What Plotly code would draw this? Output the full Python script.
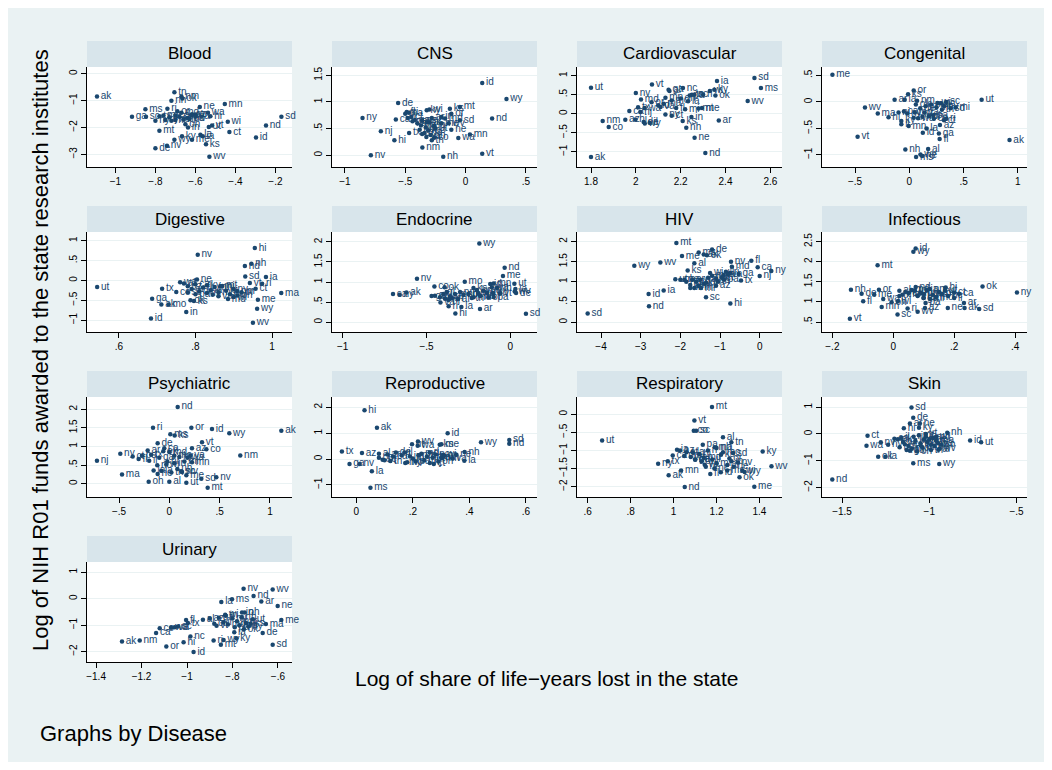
import plotly.graph_objects as go

# page offset of the figure (browser body margin) and figure size
OFF = 8
W, H = 1036, 754

# ---------------- DATA ----------------
diseases = ["Blood", "CNS", "Cardiovascular", "Congenital",
            "Digestive", "Endocrine", "HIV", "Infectious",
            "Psychiatric", "Reproductive", "Respiratory", "Skin",
            "Urinary"]

blood_st = "ak tn nm ok nh mn ne ms ri wa hi az sd ga sc wi nd ct mt in ut vt id ky wy me la ia ks nv de wv al ar ca co fl il ma md mi mo nc nj ny oh or pa tx va".split()
blood_x = [-1.092, -0.705, -0.67, -0.665, -0.72, -0.453, -0.578, -0.85, -0.74, -0.537, -0.525, -0.617, -0.17, -0.917, -0.847, -0.438, -0.247, -0.43, -0.78, -0.637, -0.533, -0.517, -0.297, -0.667, -0.705, -0.617, -0.575, -0.563, -0.547, -0.742, -0.80, -0.53, -0.62, -0.60, -0.70, -0.68, -0.73, -0.66, -0.76, -0.67, -0.72, -0.64, -0.70, -0.75, -0.80, -0.65, -0.69, -0.63, -0.78, -0.60]
blood_y = [-0.845, -0.69, -0.85, -0.92, -1.01, -1.13, -1.235, -1.32, -1.30, -1.45, -1.58, -1.51, -1.60, -1.60, -1.60, -1.79, -1.93, -2.17, -2.12, -2.0, -1.98, -1.93, -2.37, -2.33, -2.46, -2.46, -2.27, -2.33, -2.62, -2.68, -2.77, -3.09, -1.55, -1.52, -1.55, -1.60, -1.62, -1.70, -1.55, -1.45, -1.75, -1.65, -1.72, -1.72, -1.75, -1.88, -1.40, -1.68, -1.58, -1.60]

cns_st = "id wy de ny nd nj hi nv nm nh vt mn wa ne sd mt ks or ky fl md tx va tn ca co al ak az ar ct ga il in ia la me ma mi mo ms nc oh ok pa ri sc ut wv wi".split()
cns_x = [0.138, 0.339, -0.559, -0.854, 0.22, -0.702, -0.59, -0.785, -0.358, -0.185, 0.138, 0.036, -0.06, -0.118, -0.047, -0.047, -0.13, -0.118, -0.322, -0.488, -0.17, -0.468, -0.325, -0.28, -0.578, -0.26, -0.30, -0.40, -0.36, -0.28, -0.45, -0.42, -0.48, -0.20, -0.26, -0.33, -0.20, -0.50, -0.37, -0.31, -0.34, -0.38, -0.29, -0.32, -0.44, -0.47, -0.36, -0.25, -0.14, -0.30]
cns_y = [1.356, 1.056, 0.98, 0.70, 0.69, 0.45, 0.28, 0.0, 0.144, -0.03, 0.03, 0.39, 0.325, 0.48, 0.656, 0.906, 0.875, 0.78, 0.844, 0.81, 0.69, 0.419, 0.344, 0.28, 0.67, 0.33, 0.62, 0.60, 0.65, 0.70, 0.72, 0.66, 0.70, 0.72, 0.55, 0.52, 0.60, 0.78, 0.56, 0.47, 0.42, 0.48, 0.38, 0.62, 0.64, 0.80, 0.40, 0.50, 0.60, 0.86]

cardio_st = "ut ak vt nv nm co md ca nj ga nc ia sd ms ky ok wv ar in ks nh ne nd az hi de wy il la me tn ny ct mn ma wa tx al fl id mi mo mt or pa ri sc va wi oh".split()
cardio_x = [1.80, 1.80, 2.072, 2.0, 1.852, 1.879, 2.023, 1.971, 2.02, 2.146, 2.21, 2.362, 2.529, 2.558, 2.35, 2.355, 2.499, 2.37, 2.248, 2.209, 2.225, 2.262, 2.31, 1.953, 1.998, 2.035, 2.04, 2.062, 2.233, 2.295, 2.25, 2.132, 2.16, 2.132, 2.124, 2.039, 2.01, 2.15, 2.18, 2.10, 2.22, 2.16, 2.28, 2.07, 2.24, 2.30, 2.26, 2.11, 2.33, 2.20]
cardio_y = [0.684, -1.14, 0.77, 0.544, -0.19, -0.35, 0.377, 0.07, 0.044, 0.63, 0.675, 0.86, 0.94, 0.675, 0.63, 0.48, 0.333, -0.175, -0.088, -0.193, -0.368, -0.63, -1.035, -0.158, -0.149, -0.22, -0.26, -0.24, 0.325, 0.15, 0.5, -0.02, -0.05, 0.42, 0.26, 0.15, 0.17, 0.60, 0.15, 0.22, 0.12, 0.35, 0.14, 0.30, 0.48, 0.50, 0.50, 0.18, 0.60, 0.40]

congen_st = "me ut ak vt wv ma hi or ks sc al nh ms wy ne fl ga id mn la az ct ri mi co nm ar ia ky il nc ca de in md mo mt nj nv ny nd oh ok pa sd tn tx va wa wi".split()
congen_x = [-0.709, 0.666, 0.923, -0.477, -0.409, -0.291, -0.192, 0.04, -0.012, 0.34, 0.173, -0.037, 0.062, 0.102, 0.118, 0.279, 0.272, 0.124, -0.006, 0.158, 0.282, 0.319, 0.34, 0.427, 0.226, 0.071, -0.136, -0.043, -0.074, -0.074, 0.29, -0.05, 0.10, 0.15, 0.05, 0.20, 0.25, -0.10, 0.32, -0.02, 0.12, 0.18, 0.06, 0.22, 0.38, 0.30, 0.04, 0.14, 0.08, 0.26]
congen_y = [0.513, 0.038, -0.72, -0.658, -0.108, -0.22, -0.29, 0.215, 0.146, 0.0, -0.89, -0.90, -1.04, -0.99, -1.02, -0.70, -0.595, -0.58, -0.456, -0.5, -0.437, -0.348, -0.32, -0.108, -0.32, 0.02, 0.038, 0.038, -0.36, -0.42, -0.025, -0.18, -0.12, -0.08, -0.20, -0.05, -0.10, -0.20, -0.08, -0.22, -0.28, -0.27, -0.05, -0.25, -0.12, -0.15, -0.30, -0.20, -0.31, -0.02]

digest_st = "ut hi nv nh nd sd ia ri vt ct ma me wy wv ga ak mo id in tx co ks ok ne md il mi nm al az ar ca de fl ky la mn ms mt nj nc ny oh or pa sc tn va wa wi".split()
digest_x = [0.5435, 0.955, 0.806, 0.946, 0.929, 0.930, 0.984, 0.974, 0.942, 0.957, 1.024, 0.963, 0.961, 0.95, 0.687, 0.711, 0.730, 0.684, 0.776, 0.713, 0.75, 0.796, 0.787, 0.804, 0.885, 0.845, 0.865, 0.909, 0.77, 0.78, 0.79, 0.80, 0.81, 0.82, 0.83, 0.84, 0.85, 0.86, 0.87, 0.88, 0.89, 0.90, 0.91, 0.92, 0.80, 0.78, 0.83, 0.86, 0.76, 0.90]
digest_y = [-0.168, 0.815, 0.647, 0.42, 0.36, 0.10, 0.084, -0.084, -0.067, -0.21, -0.32, -0.487, -0.714, -1.067, -0.462, -0.605, -0.605, -0.958, -0.798, -0.21, -0.294, -0.52, -0.50, 0.025, -0.47, -0.36, -0.15, -0.27, -0.08, -0.15, -0.22, -0.10, -0.28, -0.18, -0.12, -0.25, -0.17, -0.30, -0.14, -0.26, -0.35, -0.22, -0.38, -0.30, -0.35, -0.30, -0.32, -0.40, -0.05, -0.42]

endo_st = "wy nd me nv ut ia de wv sd ak ca ny ok co mo hi la ar ri va al pa oh md az ct fl ga id il in ks ky ma mi mn ms mt ne nh nj nm nc or sc tn tx vt wa wi".split()
endo_x = [-0.185, -0.034, -0.044, -0.557, 0.024, 0.03, 0.034, 0.026, 0.093, -0.62, -0.70, -0.66, -0.392, -0.453, -0.272, -0.328, -0.292, -0.181, -0.368, -0.417, -0.312, -0.099, -0.103, -0.219, -0.45, -0.42, -0.40, -0.47, -0.12, -0.38, -0.35, -0.22, -0.20, -0.16, -0.14, -0.10, -0.33, -0.25, -0.18, -0.08, -0.37, -0.30, -0.28, -0.13, -0.36, -0.23, -0.39, -0.06, -0.11, -0.19]
endo_y = [1.96, 1.358, 1.152, 1.078, 0.955, 0.823, 0.724, 0.76, 0.206, 0.74, 0.70, 0.683, 0.872, 0.889, 1.004, 0.214, 0.379, 0.329, 0.395, 0.49, 0.576, 0.626, 0.724, 0.617, 0.66, 0.62, 0.70, 0.65, 0.95, 0.75, 0.60, 0.85, 0.80, 0.78, 0.73, 0.96, 0.70, 0.70, 0.65, 0.85, 0.55, 0.75, 0.68, 0.62, 0.63, 0.60, 0.58, 0.72, 0.87, 0.72]

hiv_st = "sd wy wv mt id ia nd sc hi de ms ak me al ks fl ca ny nj tx nv md ga az mi ut la ok ar co ct il in ky ma mn mo ne nh nm nc oh or pa ri tn vt va wa wi".split()
hiv_x = [-4.336, -3.16, -2.504, -2.10, -2.80, -2.42, -2.79, -1.353, -0.739, -1.20, -1.538, -1.41, -1.958, -1.647, -1.815, -0.21, -0.05, 0.294, 0.0, -0.47, -0.723, -0.70, -0.53, -1.10, -1.48, -2.126, -0.908, -1.33, -1.75, -1.60, -0.95, -0.85, -1.55, -1.40, -1.20, -1.65, -1.30, -1.90, -2.00, -1.85, -1.10, -1.35, -1.70, -0.90, -0.75, -1.05, -1.75, -0.80, -1.50, -1.25]
hiv_y = [0.213, 1.40, 1.48, 1.967, 0.697, 0.787, 0.393, 0.615, 0.459, 1.803, 1.73, 1.68, 1.64, 1.459, 1.279, 1.525, 1.36, 1.27, 1.148, 1.033, 1.50, 1.377, 1.197, 0.90, 0.844, 1.066, 1.172, 1.66, 0.92, 1.00, 1.10, 1.25, 0.90, 0.95, 1.15, 0.85, 1.10, 1.05, 1.05, 1.00, 1.08, 0.98, 1.05, 1.05, 1.22, 1.00, 0.85, 1.18, 1.05, 1.22]

infect_st = "id wy mt ok ny vt nh de me fl or wa mn oh sc ri wv az ne ak sd ar il ca ct hi nd pa ga al co in ia ks ky la ma md mi mo ms nv nj nm nc tn tx ut va wi".split()
infect_x = [0.0735, 0.066, -0.0515, 0.293, 0.406, -0.1425, -0.139, -0.104, -0.0625, -0.0987, -0.047, -0.033, -0.038, -0.0055, 0.014, 0.047, 0.08, 0.104, 0.179, 0.234, 0.282, 0.232, 0.20, 0.216, 0.20, 0.172, 0.0735, 0.106, 0.099, 0.02, 0.05, 0.08, 0.11, 0.13, 0.15, 0.10, 0.03, 0.06, 0.12, 0.14, 0.09, 0.16, 0.04, 0.12, 0.18, 0.07, 0.02, 0.17, 0.10, 0.015]
infect_y = [2.328, 2.246, 1.91, 1.385, 1.238, 0.582, 1.303, 1.205, 1.18, 1.016, 1.303, 1.074, 0.877, 0.992, 0.689, 0.836, 0.754, 0.852, 0.852, 0.852, 0.828, 0.975, 1.098, 1.205, 1.238, 1.361, 1.369, 0.975, 1.098, 1.28, 1.22, 1.15, 1.30, 1.18, 1.25, 1.10, 1.18, 1.30, 1.08, 1.12, 1.22, 1.20, 1.25, 1.32, 1.15, 1.28, 1.15, 1.28, 1.20, 1.02]

psych_st = "nd ri or id wy ak ms ks vt de az co ar ny nm va nj pa ct mn ma oh al ut sd nv mt me wv la ne fl ca ga hi il in ia ky md mi mo nh nc ok sc tn tx wa wi".split()
psych_x = [0.083, -0.162, 0.219, 0.424, 0.596, 1.113, 0.01, 0.053, 0.325, -0.116, 0.225, 0.368, -0.215, -0.487, 0.705, 0.209, -0.719, -0.272, -0.364, 0.225, -0.47, -0.205, 0.0, 0.169, 0.318, 0.467, 0.381, 0.169, 0.126, -0.156, -0.116, -0.305, -0.05, -0.10, -0.02, -0.20, 0.05, -0.08, 0.10, 0.00, 0.15, 0.05, 0.08, -0.12, -0.06, 0.12, 0.02, -0.18, 0.18, -0.03]
psych_y = [2.062, 1.504, 1.504, 1.469, 1.354, 1.425, 1.327, 1.292, 1.115, 1.088, 0.956, 0.929, 0.894, 0.805, 0.761, 0.761, 0.619, 0.752, 0.735, 0.575, 0.248, 0.053, 0.053, 0.027, 0.133, 0.177, -0.106, 0.23, 0.319, 0.354, 0.265, 0.664, 0.95, 0.70, 0.60, 0.62, 0.55, 0.35, 0.72, 0.85, 0.60, 0.75, 0.40, 0.50, 0.87, 0.33, 0.30, 0.78, 0.70, 0.52]

repro_st = "hi ak id tx ga nv la ms az wy sd nd nh ia ne mn wi me ks wv wa ut sc mo ct al ar ca co de fl il in ky ma md mi mt nj nm ny nc oh ok or pa ri tn va vt".split()
repro_x = [0.029, 0.073, 0.323, -0.051, -0.024, 0.012, 0.055, 0.05, 0.02, 0.441, 0.541, 0.541, 0.383, 0.382, 0.354, 0.303, 0.307, 0.301, 0.295, 0.218, 0.217, 0.197, 0.093, 0.173, 0.274, 0.08, 0.11, 0.13, 0.08, 0.14, 0.16, 0.17, 0.19, 0.20, 0.22, 0.23, 0.24, 0.25, 0.26, 0.27, 0.18, 0.28, 0.29, 0.30, 0.31, 0.21, 0.26, 0.12, 0.34, 0.10]
repro_y = [1.89, 1.213, 0.996, 0.294, -0.19, -0.19, -0.47, -1.11, 0.23, 0.651, 0.741, 0.587, 0.268, -0.064, 0.166, 0.038, 0.166, 0.575, 0.55, 0.677, 0.511, 0.575, -0.026, -0.153, -0.19, 0.20, 0.18, 0.10, 0.05, 0.25, 0.15, 0.25, 0.10, 0.02, 0.15, 0.20, -0.05, 0.10, -0.15, 0.05, -0.12, 0.18, -0.10, 0.05, 0.12, -0.10, 0.25, -0.08, 0.02, -0.05]

resp_st = "mt vt co sc ut al tn pa ma nh ky sd ks wv ok me nd fl mn ak ny tx ca wy ia va de az ar ct ga hi id il in la md mi ms mo ne nv nj nm nc oh or ri wa wi".split()
resp_x = [1.179, 1.097, 1.094, 1.105, 0.667, 1.23, 1.269, 1.136, 1.192, 1.20, 1.415, 1.277, 1.221, 1.456, 1.307, 1.376, 1.052, 1.171, 1.035, 0.977, 0.928, 0.973, 0.996, 1.331, 1.016, 1.145, 1.101, 1.03, 1.25, 1.06, 1.10, 1.12, 1.22, 1.18, 1.27, 1.09, 1.14, 1.20, 1.25, 1.23, 1.28, 1.30, 1.15, 1.05, 1.19, 1.13, 1.26, 1.16, 1.08, 1.32]
resp_y = [0.20, -0.173, -0.455, -0.46, -0.727, -0.636, -0.773, -0.845, -0.909, -0.93, -1.027, -1.073, -1.118, -1.436, -1.736, -2.0, -2.009, -1.645, -1.555, -1.682, -1.364, -1.30, -1.136, -1.591, -0.982, -1.391, -1.255, -1.00, -1.40, -1.05, -1.25, -1.10, -1.60, -1.25, -1.30, -1.05, -1.20, -1.35, -1.55, -1.05, -1.45, -1.33, -1.45, -1.15, -1.50, -1.30, -1.22, -1.00, -1.18, -1.55]

skin_st = "sd de ar ne hi ky nh id ut ct wa nv ny ok la ms wy nd co al ga ak az ca fl il in ks ia me md ma mi mn mo mt nj nm nc oh or pa ri sc tn tx vt va wv wi".split()
skin_x = [-1.102, -1.092, -1.111, -1.054, -1.146, -1.059, -0.897, -0.766, -0.703, -1.354, -1.36, -1.278, -1.236, -1.293, -1.251, -1.092, -0.943, -1.556, -0.933, -0.948, -1.111, -1.18, -1.15, -1.20, -1.12, -1.16, -1.05, -1.08, -1.02, -1.00, -0.98, -0.96, -1.04, -0.99, -1.10, -1.06, -1.13, -1.01, -0.97, -1.07, -1.03, -0.95, -1.09, -1.14, -0.99, -1.17, -1.02, -1.05, -0.94, -0.96]
skin_y = [0.988, 0.605, 0.395, 0.395, 0.21, 0.235, 0.049, -0.247, -0.309, -0.062, -0.444, -0.309, -0.407, -0.852, -0.852, -1.099, -1.123, -1.704, -0.407, -0.593, -0.63, -0.20, -0.30, -0.18, -0.45, -0.15, -0.35, -0.25, -0.10, -0.20, -0.15, -0.25, -0.50, -0.40, -0.55, -0.05, -0.60, -0.30, -0.45, -0.65, -0.22, -0.35, -0.10, -0.38, -0.60, -0.50, 0.0, -0.42, -0.55, -0.10]

urin_st = "nv wv nd ar ms la ne me ma de sd wi in oh ak nm or ca co va sc wa nc hi id ri wy ky mt tx fl ia al az ct ga il md mi mn mo nh nj ny ok pa tn ut vt ks".split()
urin_x = [-0.751, -0.623, -0.707, -0.673, -0.802, -0.849, -0.601, -0.585, -0.653, -0.667, -0.623, -0.832, -0.758, -0.746, -1.286, -1.208, -1.091, -1.136, -1.12, -1.054, -1.04, -1.07, -0.985, -1.015, -0.971, -0.883, -0.839, -0.783, -0.851, -0.996, -1.004, -0.792, -0.93, -0.90, -0.88, -0.86, -0.84, -0.82, -0.80, -0.78, -0.77, -0.76, -0.74, -0.73, -0.75, -0.79, -0.83, -0.71, -0.87, -0.72]
urin_y = [0.374, 0.349, 0.10, -0.112, -0.025, -0.125, -0.274, -0.81, -0.959, -1.295, -1.743, -0.61, -0.523, -0.523, -1.619, -1.582, -1.806, -1.295, -1.121, -1.083, -1.05, -1.10, -1.432, -1.644, -2.017, -1.582, -1.557, -1.494, -1.743, -0.921, -0.809, -1.27, -0.80, -0.75, -0.95, -0.72, -0.90, -0.98, -0.75, -0.85, -1.00, -0.70, -0.92, -1.05, -1.15, -1.08, -0.65, -0.78, -1.02, -0.95]

# tick values per panel
x_ticks = [[-1, -.8, -.6, -.4, -.2], [-1, -.5, 0, .5], [1.8, 2, 2.2, 2.4, 2.6], [-.5, 0, .5, 1],
           [.6, .8, 1], [-1, -.5, 0], [-4, -3, -2, -1, 0], [-.2, 0, .2, .4],
           [-.5, 0, .5, 1], [0, .2, .4, .6], [.6, .8, 1, 1.2, 1.4], [-1.5, -1, -.5],
           [-1.4, -1.2, -1, -.8, -.6]]
y_ticks = [[-3, -2, -1, 0], [0, .5, 1, 1.5], [-1, -.5, 0, .5, 1], [-1, -.5, 0, .5],
           [-1, -.5, 0, .5, 1], [0, .5, 1, 1.5, 2], [0, .5, 1, 1.5, 2], [.5, 1, 1.5, 2, 2.5],
           [0, .5, 1, 1.5, 2], [-1, 0, 1, 2], [-2, -1.5, -1, -.5, 0], [-2, -1, 0, 1],
           [-2, -1, 0, 1]]

panel_data = [(blood_st, blood_x, blood_y), (cns_st, cns_x, cns_y), (cardio_st, cardio_x, cardio_y),
              (congen_st, congen_x, congen_y), (digest_st, digest_x, digest_y), (endo_st, endo_x, endo_y),
              (hiv_st, hiv_x, hiv_y), (infect_st, infect_x, infect_y), (psych_st, psych_x, psych_y),
              (repro_st, repro_x, repro_y), (resp_st, resp_x, resp_y), (skin_st, skin_x, skin_y),
              (urin_st, urin_x, urin_y)]

# ---------------- layout / style ----------------
x_ranges = [[-1.142, -0.117], [-1.107, 0.592], [1.7375, 2.652], [-0.805, 1.084],
            [0.517, 1.052], [-1.064, 0.159], [-4.605, 0.563], [-0.234, 0.439],
            [-0.818, 1.219], [-0.086, 0.639], [0.550, 1.505], [-1.615, -0.44],
            [-1.44, -0.538]]
y_ranges = [[-3.47, 0.25], [-0.22, 1.656], [-1.40, 1.228], [-1.228, 0.658],
            [-1.30, 1.218], [-0.247, 2.247], [-0.246, 2.238], [0.254, 2.738],
            [-0.354, 2.327], [-1.469, 2.40], [-2.282, 0.473], [-2.358, 1.383],
            [-2.39, 1.382]]

BG = "#EAF2F3"
STRIP = "#D8E5EB"
NAVY = "#1A476F"
FONT = "Liberation Sans, Arial, Helvetica, sans-serif"


def px(v):
    return (v - OFF) / W


def py(v):
    return 1 - (v - OFF) / H


def fmt(v):
    s = ("%g" % v)
    if s.startswith("0."):
        s = s[1:]
    elif s.startswith("-0."):
        s = "-" + s[2:]
    return s.replace("-", "\u2212")


fig = go.Figure()
shapes = []
annotations = []
layout_axes = {}

for i, name in enumerate(diseases):
    r, c = divmod(i, 4)
    L = 87 + 245 * c
    R = L + 205
    B = 167 + 165 * r
    T = B - 100
    ST = T - 26
    xa = "xaxis" if i == 0 else "xaxis%d" % (i + 1)
    ya = "yaxis" if i == 0 else "yaxis%d" % (i + 1)
    xr = "x" if i == 0 else "x%d" % (i + 1)
    yr = "y" if i == 0 else "y%d" % (i + 1)
    st, xs, ys = panel_data[i]
    fig.add_trace(go.Scatter(
        x=xs, y=ys, text=st, mode="markers+text", textposition="middle right",
        marker=dict(color=NAVY, size=4.5), cliponaxis=False,
        textfont=dict(color=NAVY, size=10, family=FONT),
        xaxis=xr, yaxis=yr, showlegend=False, hoverinfo="text"))
    layout_axes[xa] = dict(
        domain=[px(L), px(R)], range=x_ranges[i], anchor=yr,
        tickvals=x_ticks[i], ticktext=[fmt(v) for v in x_ticks[i]],
        showgrid=False, zeroline=False, showline=True, linecolor="#000000", linewidth=1,
        ticks="outside", ticklen=5, tickcolor="#000000", tickwidth=1,
        tickfont=dict(size=10, color="#000000", family=FONT))
    layout_axes[ya] = dict(
        domain=[py(B), py(T)], range=y_ranges[i], anchor=xr,
        tickvals=y_ticks[i], ticktext=[fmt(v) for v in y_ticks[i]], tickangle=-90,
        showgrid=True, gridcolor=BG, gridwidth=1.2, zeroline=False,
        showline=True, linecolor="#000000", linewidth=1,
        ticks="outside", ticklen=5, tickcolor="#000000", tickwidth=1,
        tickfont=dict(size=10, color="#000000", family=FONT))
    shapes.append(dict(type="rect", xref="paper", yref="paper",
                       x0=px(L), x1=px(R), y0=py(T), y1=py(ST),
                       fillcolor=STRIP, line=dict(width=0), layer="below"))
    annotations.append(dict(text=name, xref="paper", yref="paper",
                            x=px((L + R) / 2), y=py((ST + T) / 2),
                            xanchor="center", yanchor="middle", showarrow=False,
                            font=dict(size=17, color="#000000", family=FONT)))

annotations.append(dict(text="Log of NIH R01 funds awarded to the state research institutes",
                        xref="paper", yref="paper", x=px(40), y=py(350), textangle=-90,
                        xanchor="center", yanchor="middle", showarrow=False,
                        font=dict(size=22, color="#000000", family=FONT)))
annotations.append(dict(text="Log of share of life\u2212years lost in the state",
                        xref="paper", yref="paper", x=px(546), y=py(678),
                        xanchor="center", yanchor="middle", showarrow=False,
                        font=dict(size=21, color="#000000", family=FONT)))
annotations.append(dict(text="Graphs by Disease",
                        xref="paper", yref="paper", x=px(38), y=py(733),
                        xanchor="left", yanchor="middle", showarrow=False,
                        font=dict(size=22, color="#000000", family=FONT)))

fig.update_layout(
    width=W, height=H, margin=dict(l=0, r=0, t=0, b=0),
    paper_bgcolor=BG, plot_bgcolor="white",
    shapes=shapes, annotations=annotations, showlegend=False,
    font=dict(family=FONT), **layout_axes)

fig.write_html("out.html")
